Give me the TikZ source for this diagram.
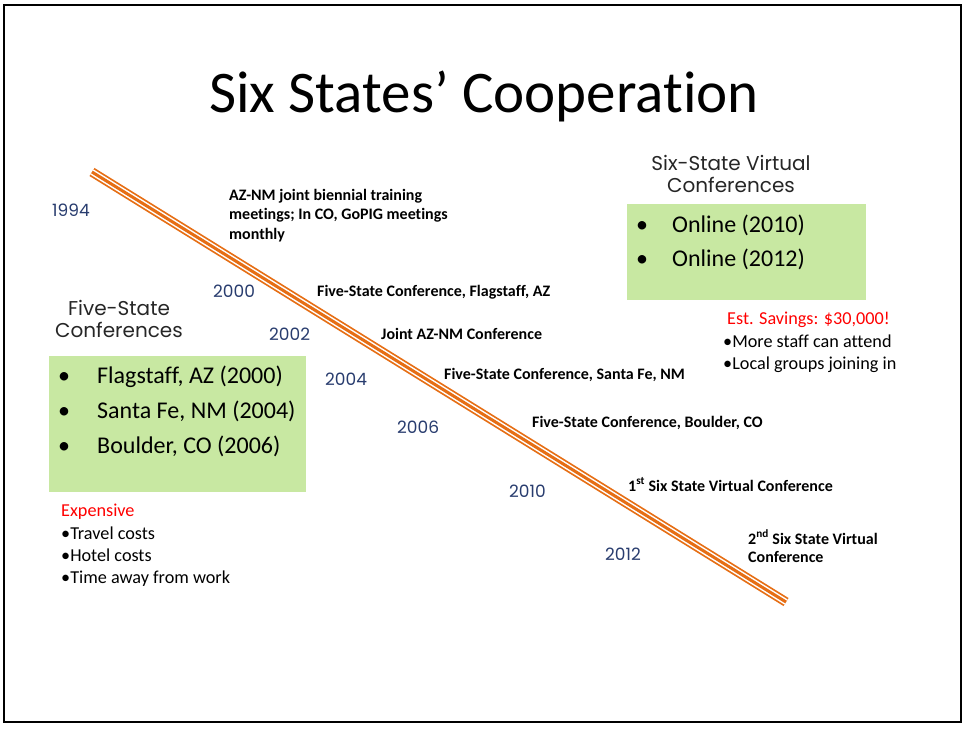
\documentclass[tikz,border=0pt]{standalone}
\usepackage{fontspec}
\setmainfont{Carlito}[Ligatures=NoCommon]
\newfontfamily\gothic{Poppins}
\definecolor{tlorange}{RGB}{230,110,20}
\definecolor{boxgreen}{RGB}{200,232,162}
\definecolor{yearblue}{RGB}{40,60,110}
\definecolor{savered}{RGB}{255,0,0}
\tikzset{
  lbl/.style={anchor=base west, inner sep=0pt, font=\fontsize{16}{19}\selectfont\bfseries},
  yr/.style={anchor=base west, inner sep=0pt, text=yearblue, font=\gothic\fontsize{17}{20}\selectfont},
  head/.style={anchor=base, inner sep=0pt, text=black!85, font=\gothic\fontsize{20}{23}\selectfont},
  item/.style={anchor=base west, inner sep=0pt, font=\fontsize{24}{28}\selectfont},
  small/.style={anchor=base west, inner sep=0pt, font=\fontsize{18.2}{21}\selectfont},
  gbox/.style={fill=boxgreen, draw=none},
}
\begin{document}
\begin{tikzpicture}[x=1pt,y=-1pt]
\useasboundingbox (0,0) rectangle (965,729);
\draw[line width=2.5pt] (4,5) rectangle (961,722);
% title
\node[anchor=base west, inner sep=0pt, font=\fontsize{59}{64}\selectfont] (title) at (209,112) {Six States’ Cooperation};
% timeline
\coordinate (ts) at (92,172);
\coordinate (te) at (786,602);
\draw[tlorange, line width=9.5pt] (ts) -- (te);
\draw[white, line width=6pt] (ts) -- (te);
\draw[tlorange, line width=3pt] (ts) -- (te);
% years
\node[yr] (y94) at (52,216) {1994};
\node[yr] (y00) at (213,297) {2000};
\node[yr] (y02) at (269,340) {2002};
\node[yr] (y04) at (325,385) {2004};
\node[yr] (y06) at (397,433) {2006};
\node[yr] (y10) at (509,497) {2010};
\node[yr] (y12) at (605,560) {2012};
% event labels
\node[lbl] (e1a) at (229,200) {AZ-NM joint biennial training};
\node[lbl] (e1b) at (229,219) {meetings; In CO, GoPIG meetings};
\node[lbl] (e1c) at (229,239) {monthly};
\node[lbl] (e2) at (317,296) {Five-State Conference, Flagstaff, AZ};
\node[lbl] (e3) at (381,339) {Joint AZ-NM Conference};
\node[lbl] (e4) at (444,379) {Five-State Conference, Santa Fe, NM};
\node[lbl] (e5) at (532,427) {Five-State Conference, Boulder, CO};
\node[lbl] (e6) at (628,491) {1\textsuperscript{st} Six State Virtual Conference};
\node[lbl] (e7a) at (748,544) {2\textsuperscript{nd} Six State Virtual};
\node[lbl] (e7b) at (748,562) {Conference};
% left group
\node[head] (lh1) at (119,315) {Five-State};
\node[head] (lh2) at (119,337) {Conferences};
\fill[gbox] (49,356) rectangle (306,492);
\node[item] (lb1) at (58,383) {•};
\node[item] (li1) at (97,383) {Flagstaff, AZ (2000)};
\node[item] (lb2) at (58,418) {•};
\node[item] (li2) at (97,418) {Santa Fe, NM (2004)};
\node[item] (lb3) at (58,453) {•};
\node[item] (li3) at (97,453) {Boulder, CO (2006)};
\node[small, text=savered] (exp) at (61,516) {Expensive};
\node[small] (ex1) at (61,539) {•Travel costs};
\node[small] (ex2) at (61,561) {•Hotel costs};
\node[small] (ex3) at (61,583) {•Time away from work};
% right group
\node[head] (rh1) at (731,170) {Six-State Virtual};
\node[head] (rh2) at (731,192) {Conferences};
\fill[gbox] (627,204) rectangle (866,300);
\node[item] (rb1) at (636,232) {•};
\node[item] (ri1) at (672,232) {Online (2010)};
\node[item] (rb2) at (636,266) {•};
\node[item] (ri2) at (672,266) {Online (2012)};
\node[small, text=savered] (sav) at (727,324) {Est. Savings: \$30,000!};
\node[small] (sv1) at (723,347) {•More staff can attend};
\node[small] (sv2) at (723,369) {•Local groups joining in};
\end{tikzpicture}
\end{document}
